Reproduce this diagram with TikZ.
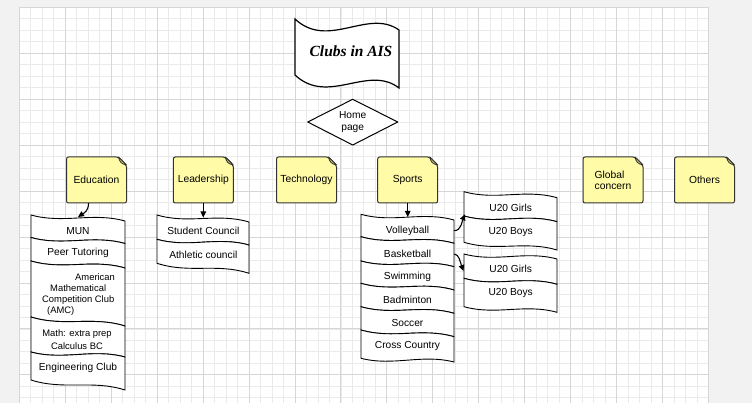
\documentclass[tikz,border=0pt]{standalone}
\usepackage{fontspec}
\setmainfont{Liberation Sans}
\newfontfamily\titlefont{Liberation Serif}
\usetikzlibrary{arrows.meta,calc}
\definecolor{bggray}{HTML}{F2F2F2}
\definecolor{gridminor}{HTML}{EAEAEA}
\definecolor{gridmajor}{HTML}{D6D6D6}
\definecolor{notefill}{HTML}{FFFBA6}
\definecolor{notefold}{HTML}{C9C47E}
\definecolor{noteline}{HTML}{333333}
% xl xr ytl ytr ybl ybr
\newcommand{\rowbox}[6]{%
  \filldraw[rowline] (#1,#3) .. controls ($(#1,#3)!0.35!(#2,#4)+(0,7)$) and ($(#1,#3)!0.65!(#2,#4)+(0,-7)$) .. (#2,#4)
    -- (#2,#6) .. controls ($(#1,#5)!0.65!(#2,#6)+(0,-7)$) and ($(#1,#5)!0.35!(#2,#6)+(0,7)$) .. (#1,#5) -- cycle;}
% name cx cy text
\newcommand{\stickynote}[4]{%
  \filldraw[draw=noteline, fill=notefill, line width=1pt, rounded corners=2pt]
    (#2-30,#3-23) -- (#2+22,#3-23) -- (#2+30,#3-15) -- (#2+30,#3+23) -- (#2-30,#3+23) -- cycle;
  \filldraw[draw=noteline, fill=notefold, line width=0.8pt, line join=round]
    (#2+22,#3-23) .. controls (#2+23,#3-18) and (#2+25,#3-16) .. (#2+30,#3-15) -- cycle;
  \node[notetext] (#1) at (#2,#3) {#4};}
\begin{document}
\begin{tikzpicture}[x=1pt,y=-1pt,
  rowline/.style={draw=black, fill=white, line width=0.9pt},
  rowtext/.style={font=\fontsize{10.2}{12}\selectfont, minimum width=93pt, inner sep=0pt},
  smalltext/.style={font=\fontsize{9.4}{11}\selectfont, inner sep=0pt},
  notetext/.style={font=\fontsize{10.3}{11.2}\selectfont, inner sep=0pt, minimum width=60pt, minimum height=46pt, align=left},
  link/.style={-{Triangle[length=6pt,width=5.5pt]}, line width=1.1pt, black}]
\useasboundingbox (0,0) rectangle (752,403);
\fill[bggray] (0,0) rectangle (752,403);
\fill[white] (19.3,7.3) rectangle (708.3,403);
% grid
\foreach \i in {0,...,60} \draw[gridminor, line width=0.6pt] ({19.3+\i*11.483},7.3) -- ({19.3+\i*11.483},403);
\foreach \j in {0,...,34} \draw[gridminor, line width=0.6pt] (19.3,{7.3+\j*11.483}) -- (708.3,{7.3+\j*11.483});
\foreach \i in {0,4,...,60} \draw[gridmajor, line width=0.7pt] ({19.3+\i*11.483},7.3) -- ({19.3+\i*11.483},403);
\foreach \j in {0,4,...,32} \draw[gridmajor, line width=0.7pt] (19.3,{7.3+\j*11.483}) -- (708.3,{7.3+\j*11.483});

% title
\filldraw[draw=black, fill=white, line width=1.2pt]
  (295,19) .. controls (328,50) and (368,8) .. (399,30) -- (399,88)
  .. controls (368,64) and (328,106) .. (295,75) -- cycle;
\node[font=\titlefont\bfseries\itshape\fontsize{15.5}{18}\selectfont, inner sep=0pt] (title) at (351,51) {Clubs in AIS};

% home diamond
\filldraw[draw=black, fill=white, line width=1pt, line join=round]
  (307.7,122) -- (352.7,99.3) -- (397.7,122) -- (352.7,145) -- cycle;
\node[font=\fontsize{10.2}{12}\selectfont, align=center, inner sep=0pt] (home) at (352.7,122) {Home\\page};

% notes
\stickynote{edu}{96.5}{180}{Education}
\stickynote{lead}{203.3}{180}{Leadership}
\stickynote{tech}{306.5}{180}{Technology}
\stickynote{sports}{407.7}{180}{Sports}
\stickynote{glob}{613}{180}{Global\\concern}
\stickynote{oth}{704.5}{180}{Others}

% education list
\rowbox{31}{125}{215}{221}{237.5}{243.5}
\rowbox{31}{125}{237.5}{243.5}{261}{268}
\rowbox{31}{125}{261}{268}{317}{326}
\rowbox{31}{125}{317}{326}{352}{357}
\rowbox{31}{125}{352}{357}{380}{390}
\node[rowtext] (mun) at (78,230.7) {MUN};
\node[rowtext] (peer) at (78,253.3) {Peer Tutoring};
\node[smalltext, anchor=west, align=left] (amc) at (42,294.7) {\hspace*{33pt}American\\\hspace*{8pt}Mathematical\\Competition Club\\\hspace*{5pt}(AMC)};
\node[smalltext, align=center, font=\fontsize{9.4}{12.4}\selectfont] (math) at (77,339.5) {Math: extra prep\\Calculus BC};
\node[rowtext] (eng) at (78,368.3) {Engineering Club};

% leadership list
\rowbox{157}{249}{215}{222}{239.3}{245}
\rowbox{157}{249}{239.3}{245}{263.3}{273.3}
\node[rowtext] (stuc) at (203.3,230.7) {Student Council};
\node[rowtext] (athc) at (203.3,254.7) {Athletic council};

% sports list
\rowbox{361}{454}{214.3}{220}{236.7}{243.3}
\rowbox{361}{454}{236.7}{243.3}{261}{266.7}
\rowbox{361}{454}{261}{266.7}{283.3}{290}
\rowbox{361}{454}{283.3}{290}{306.7}{313.3}
\rowbox{361}{454}{306.7}{313.3}{330}{336.7}
\rowbox{361}{454}{330}{336.7}{358.3}{362}
\node[rowtext] (vb) at (407.5,230.7) {Volleyball};
\node[rowtext] (bb) at (407.5,254) {Basketball};
\node[rowtext] (swim) at (407.5,276.7) {Swimming};
\node[rowtext] (badm) at (407.5,300) {Badminton};
\node[rowtext] (socc) at (407.5,322.7) {Soccer};
\node[rowtext] (cross) at (407.5,346) {Cross Country};

% sub lists
\rowbox{464}{557}{191.7}{197.7}{216}{221.7}
\rowbox{464}{557}{216}{221.7}{242.3}{250}
\rowbox{464}{557}{254}{259}{278.3}{284.3}
\rowbox{464}{557}{278.3}{284.3}{306.7}{312.3}
\node[rowtext] (g1) at (510.7,207.7) {U20 Girls};
\node[rowtext] (b1) at (510.7,231.7) {U20 Boys};
\node[rowtext] (g2) at (510.7,269.3) {U20 Girls};
\node[rowtext] (b2) at (510.7,293.3) {U20 Boys};

% connectors
\coordinate (eduin) at (78,217);
\coordinate (leadin) at (203.3,217.5);
\coordinate (sportsin) at (407.7,217);
\coordinate (sub1in) at (465,214.3);
\coordinate (sub2in) at (463.5,271);
\draw[link] ([xshift=-8pt]edu.south) .. controls +(0,8) and +(6,-4) .. (eduin);
\draw[link] (lead.south) -- (leadin);
\draw[link] (sports.south) -- (sportsin);
\draw[link] (vb.east) .. controls +(7,0) and +(-3,7) .. (sub1in);
\draw[link] (bb.east) .. controls +(5,0) and +(-3,-8) .. (sub2in);
\end{tikzpicture}
\end{document}
